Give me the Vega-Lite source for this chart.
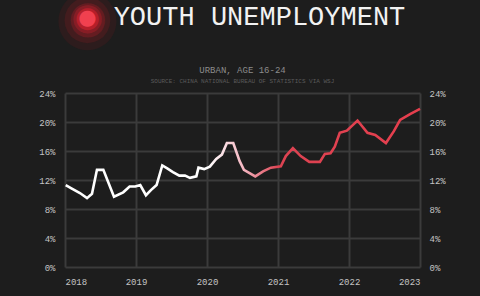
{
  "$schema": "https://vega.github.io/schema/vega-lite/v6.json",
  "width": 355,
  "height": 174,
  "autosize": {"type": "none"},
  "padding": {"left": 65, "top": 93, "right": 60, "bottom": 29},
  "background": "#1d1d1d",
  "title": {
    "text": "YOUTH UNEMPLOYMENT",
    "subtitle": " ",
    "font": "Liberation Mono",
    "fontSize": 27,
    "fontWeight": "normal",
    "color": "#f2f2f2",
    "subtitleFont": "Liberation Mono",
    "subtitleFontSize": 9,
    "subtitleColor": "#8c8c8c",
    "subtitlePadding": 43,
    "anchor": "middle",
    "dx": 17,
    "dy": 109,
    "offset": 4
  },
  "data": {
    "values": [
      {"year": 2018.01, "rate": 11.3},
      {"year": 2018.09, "rate": 10.85},
      {"year": 2018.21, "rate": 10.2},
      {"year": 2018.31, "rate": 9.5},
      {"year": 2018.38, "rate": 10.1},
      {"year": 2018.45, "rate": 13.4},
      {"year": 2018.54, "rate": 13.4},
      {"year": 2018.69, "rate": 9.7},
      {"year": 2018.82, "rate": 10.3},
      {"year": 2018.91, "rate": 11.1},
      {"year": 2018.99, "rate": 11.1},
      {"year": 2019.06, "rate": 11.3},
      {"year": 2019.14, "rate": 9.9},
      {"year": 2019.21, "rate": 10.6},
      {"year": 2019.29, "rate": 11.3},
      {"year": 2019.37, "rate": 14.0},
      {"year": 2019.44, "rate": 13.6},
      {"year": 2019.52, "rate": 13.1},
      {"year": 2019.61, "rate": 12.6},
      {"year": 2019.69, "rate": 12.6},
      {"year": 2019.76, "rate": 12.3},
      {"year": 2019.85, "rate": 12.5},
      {"year": 2019.88, "rate": 13.7},
      {"year": 2019.96, "rate": 13.5},
      {"year": 2020.04, "rate": 13.85},
      {"year": 2020.13, "rate": 14.9},
      {"year": 2020.21, "rate": 15.5},
      {"year": 2020.28, "rate": 17.1},
      {"year": 2020.37, "rate": 17.1},
      {"year": 2020.46, "rate": 14.6},
      {"year": 2020.52, "rate": 13.4},
      {"year": 2020.68, "rate": 12.5},
      {"year": 2020.79, "rate": 13.2},
      {"year": 2020.9, "rate": 13.7},
      {"year": 2021.04, "rate": 13.9},
      {"year": 2021.11, "rate": 15.3},
      {"year": 2021.21, "rate": 16.4},
      {"year": 2021.32, "rate": 15.3},
      {"year": 2021.44, "rate": 14.5},
      {"year": 2021.59, "rate": 14.5},
      {"year": 2021.66, "rate": 15.6},
      {"year": 2021.74, "rate": 15.7},
      {"year": 2021.8, "rate": 16.6},
      {"year": 2021.87, "rate": 18.5},
      {"year": 2021.97, "rate": 18.8},
      {"year": 2022.12, "rate": 20.2},
      {"year": 2022.26, "rate": 18.5},
      {"year": 2022.37, "rate": 18.2},
      {"year": 2022.52, "rate": 17.1},
      {"year": 2022.63, "rate": 18.7},
      {"year": 2022.72, "rate": 20.3},
      {"year": 2022.86, "rate": 21.1},
      {"year": 2023.0, "rate": 21.8}
    ]
  },
  "resolve": {"axis": {"x": "independent", "y": "independent"}},
  "layer": [
    {
      "mark": {"type": "line", "strokeOpacity": 0},
      "encoding": {
        "x": {
          "field": "year",
          "type": "quantitative",
          "axis": {
            "orient": "bottom",
            "labels": false,
            "grid": false,
            "title": "●",
            "titleX": 22,
            "titleY": -250,
            "titleAngle": 0,
            "titleAlign": "center",
            "titleBaseline": "middle",
            "titleFont": "DejaVu Sans",
            "titleFontSize": 60,
            "titleColor": "#d81c2a",
            "titleOpacity": 0.13
          }
        },
        "y": {
          "field": "rate",
          "type": "quantitative",
          "axis": {
            "orient": "left",
            "labels": false,
            "grid": false,
            "title": "●",
            "titleX": 22,
            "titleY": -76,
            "titleAngle": 0,
            "titleAlign": "center",
            "titleBaseline": "middle",
            "titleFont": "DejaVu Sans",
            "titleFontSize": 29,
            "titleColor": "#e82030",
            "titleOpacity": 0.5
          }
        }
      }
    },
    {
      "mark": {
        "type": "line",
        "strokeWidth": 2.6,
        "color": {
          "gradient": "linear",
          "x1": 0, "y1": 0, "x2": 1, "y2": 0,
          "stops": [
            {"offset": 0, "color": "#ffffff"},
            {"offset": 0.4, "color": "#ffffff"},
            {"offset": 0.5, "color": "#f5b8c3"},
            {"offset": 0.6, "color": "#dc4352"},
            {"offset": 1, "color": "#e63e4d"}
          ]
        }
      },
      "encoding": {
        "x": {
          "field": "year",
          "type": "quantitative",
          "scale": {"domain": [2018, 2023], "nice": false, "zero": false},
          "axis": {
            "orient": "bottom",
            "values": [2018, 2019, 2020, 2021, 2022, 2023],
            "format": "d",
            "grid": true,
            "title": "●",
            "titleX": 22,
            "titleY": -250,
            "titleAngle": 0,
            "titleAlign": "center",
            "titleBaseline": "middle",
            "titleFont": "DejaVu Sans",
            "titleFontSize": 76,
            "titleColor": "#d01826",
            "titleOpacity": 0.09
          }
        },
        "y": {
          "field": "rate",
          "type": "quantitative",
          "scale": {"domain": [0, 24], "nice": false},
          "axis": {
            "orient": "left",
            "values": [0, 4, 8, 12, 16, 20, 24],
            "labelExpr": "datum.value + '%'",
            "grid": true,
            "title": "●",
            "titleX": 22,
            "titleY": -76,
            "titleAngle": 0,
            "titleAlign": "center",
            "titleBaseline": "middle",
            "titleFont": "DejaVu Sans",
            "titleFontSize": 21,
            "titleColor": "#ff5a68",
            "titleOpacity": 1
          }
        }
      }
    },
    {
      "mark": {"type": "line", "strokeOpacity": 0},
      "encoding": {
        "x": {
          "field": "year",
          "type": "quantitative",
          "axis": {
            "orient": "top",
            "labels": false,
            "grid": false,
            "title": "SOURCE: CHINA NATIONAL BUREAU OF STATISTICS VIA WSJ",
            "titleX": 177,
            "titleY": -13,
            "titleAngle": 0,
            "titleAlign": "center",
            "titleBaseline": "middle",
            "titleFont": "Liberation Mono",
            "titleFontSize": 6,
            "titleColor": "#5a5a5a"
          }
        },
        "y": {
          "field": "rate",
          "type": "quantitative",
          "axis": {
            "orient": "right",
            "values": [0, 4, 8, 12, 16, 20, 24],
            "labelExpr": "datum.value + '%'",
            "labelPadding": 9,
            "grid": false,
            "title": "●",
            "titleX": -333,
            "titleY": -76,
            "titleAngle": 0,
            "titleAlign": "center",
            "titleBaseline": "middle",
            "titleFont": "DejaVu Sans",
            "titleFontSize": 45,
            "titleColor": "#e0202e",
            "titleOpacity": 0.22
          }
        }
      }
    },
    {
      "mark": {"type": "line", "strokeOpacity": 0},
      "encoding": {
        "x": {
          "field": "year",
          "type": "quantitative",
          "axis": {
            "orient": "top",
            "labels": false,
            "grid": false,
            "title": "●",
            "titleX": 22,
            "titleY": -76,
            "titleAngle": 0,
            "titleAlign": "center",
            "titleBaseline": "middle",
            "titleFont": "DejaVu Sans",
            "titleFontSize": 12,
            "titleColor": "#ff9aa2",
            "titleOpacity": 0.7
          }
        },
        "y": {
          "field": "rate",
          "type": "quantitative",
          "axis": {
            "orient": "left",
            "labels": false,
            "grid": false,
            "title": "●",
            "titleX": 22,
            "titleY": -76,
            "titleAngle": 0,
            "titleAlign": "center",
            "titleBaseline": "middle",
            "titleFont": "DejaVu Sans",
            "titleFontSize": 37,
            "titleColor": "#e02232",
            "titleOpacity": 0.3
          }
        }
      }
    },
    {
      "mark": {"type": "line", "strokeOpacity": 0},
      "encoding": {
        "x": {
          "field": "year",
          "type": "quantitative",
          "axis": {
            "orient": "top",
            "labels": false,
            "grid": false,
            "title": "URBAN, AGE 16-24",
            "titleX": 177,
            "titleY": -24,
            "titleAngle": 0,
            "titleAlign": "center",
            "titleBaseline": "middle",
            "titleFont": "Liberation Mono",
            "titleFontSize": 9,
            "titleColor": "#8c8c8c"
          }
        },
        "y": {
          "field": "rate",
          "type": "quantitative",
          "axis": null
        }
      }
    }
  ],
  "config": {
    "view": {"stroke": null},
    "axis": {
      "labelFont": "Liberation Mono",
      "labelFontSize": 9,
      "labelColor": "#c4c4c4",
      "ticks": false,
      "domain": false,
      "gridColor": "#3b3b3b",
      "gridWidth": 2,
      "gridOpacity": 1,
      "labelPadding": 10,
      "titleFontWeight": "normal"
    }
  }
}
